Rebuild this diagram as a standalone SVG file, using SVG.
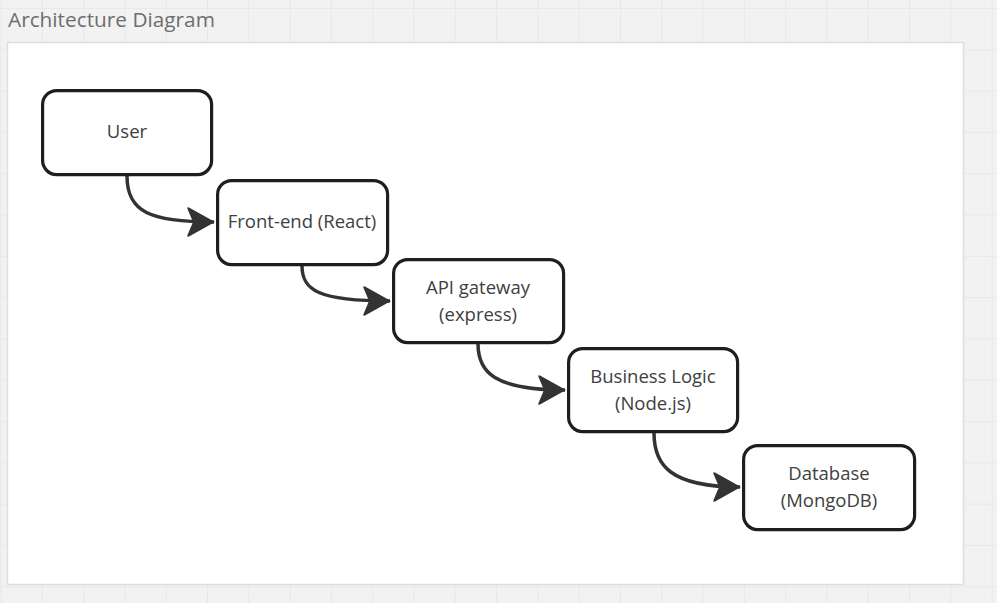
<svg xmlns="http://www.w3.org/2000/svg" width="997" height="603" viewBox="0 0 997 603">
  <defs>
    <pattern id="grid" x="0.5" y="8" width="41.3" height="41.3" patternUnits="userSpaceOnUse">
      <path d="M0,0 H41.3 M0,0 V41.3" fill="none" stroke="#e8e8e8" stroke-width="2"/>
    </pattern>
    <marker id="arrow" viewBox="0 0 30 32" refX="28" refY="16" markerWidth="30" markerHeight="32" markerUnits="userSpaceOnUse" orient="auto">
      <path d="M29,16 L3,1.5 Q0.5,0.5 1.5,3 L7,16 L1.5,29 Q0.5,31.5 3,30.5 Z" fill="#333333"/>
    </marker>
    <style>
      .node rect { fill: #ffffff; stroke: #1e1e1e; stroke-width: 3.2; }
      .node text { font-family: "Open Sans", "Noto Sans", sans-serif; font-size: 18.5px; fill: #404040; text-anchor: middle; dominant-baseline: central; }
      .edge { fill: none; stroke: #333333; stroke-width: 3.5; marker-end: url(#arrow); }
    </style>
  </defs>
  <rect x="0" y="0" width="997" height="603" fill="#f2f2f2"/>
  <rect x="0" y="0" width="997" height="603" fill="url(#grid)"/>
  <text x="8" y="27" font-family="'Open Sans', 'Noto Sans', sans-serif" font-size="20.8" fill="#6e6e6e">Architecture Diagram</text>
  <rect id="panel" x="7.5" y="42.5" width="956" height="542" fill="#ffffff" stroke="#dedede" stroke-width="1.5"/>

  <g id="connectors">
    <path class="edge" d="M127,176 C127,212 150,222 214,222"/>
    <path class="edge" d="M302,266 C302,290 318,301 390,301"/>
    <path class="edge" d="M478,344 C478,372 494,390 565,390"/>
    <path class="edge" d="M654,433 C654,465 670,487 740,487"/>
  </g>

  <g id="user" class="node">
    <rect x="42.6" y="90.6" width="169" height="84" rx="14"/>
    <text x="127" y="130.5">User</text>
  </g>
  <g id="frontend" class="node">
    <rect x="217.6" y="180.6" width="170" height="84" rx="14"/>
    <text x="302" y="220.5">Front-end (React)</text>
  </g>
  <g id="api" class="node">
    <rect x="393.6" y="259.6" width="170" height="83" rx="14"/>
    <text x="478" y="286">API gateway</text>
    <text x="478" y="313">(express)</text>
  </g>
  <g id="business" class="node">
    <rect x="568.6" y="348.6" width="169" height="83" rx="14"/>
    <text x="653" y="375">Business Logic</text>
    <text x="653" y="402">(Node.js)</text>
  </g>
  <g id="database" class="node">
    <rect x="743.6" y="445.6" width="171" height="84" rx="14"/>
    <text x="829" y="472">Database</text>
    <text x="829" y="499">(MongoDB)</text>
  </g>
</svg>
